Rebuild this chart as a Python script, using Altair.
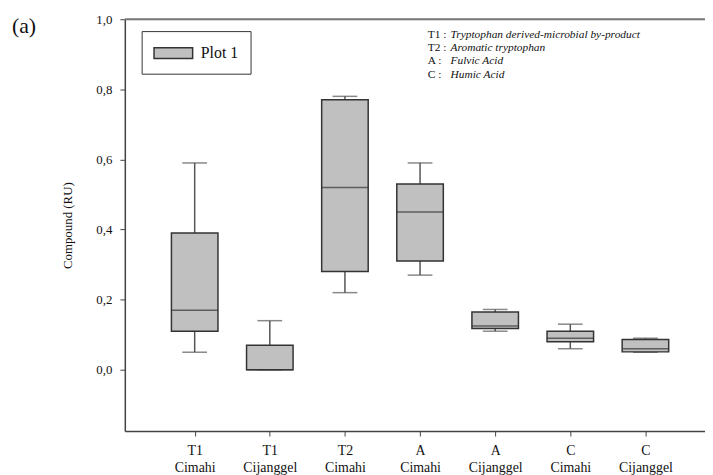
import altair as alt
import pandas as pd

# ---- data ----
categories = ["T1|Cimahi", "T1|Cijanggel", "T2|Cimahi", "A|Cimahi",
              "A|Cijanggel", "C|Cimahi", "C|Cijanggel"]
whisker_low = [0.05, 0.00, 0.22, 0.27, 0.110, 0.06, 0.050]
q1 = [0.11, 0.00, 0.28, 0.31, 0.118, 0.08, 0.051]
median = [0.17, 0.00, 0.52, 0.45, 0.125, 0.09, 0.060]
q3 = [0.39, 0.07, 0.77, 0.53, 0.165, 0.11, 0.086]
whisker_high = [0.59, 0.14, 0.78, 0.59, 0.172, 0.13, 0.090]
series_name = "Plot 1"
y_ticks = [0.0, 0.2, 0.4, 0.6, 0.8, 1.0]
note_keys = ["T1 :", "T2 :", "A  :", "C  :"]
note_descs = ["Tryptophan derived-microbial by-product", " Aromatic tryptophan",
              "Fulvic Acid", "Humic Acid"]
panel_label = "(a)"

df = pd.DataFrame({
    "idx": list(range(1, len(categories) + 1)),
    "cat": categories,
    "lo": whisker_low, "q1": q1, "med": median, "q3": q3, "hi": whisker_high,
    "series": [series_name] * len(categories),
})
one = pd.DataFrame({"k": [0]})

FONT = "Liberation Serif"
W, H = 586, 416

cat_js = "[" + ",".join("'" + c + "'" for c in categories) + "]"
xscale = alt.Scale(domain=[0.136, 7.727], nice=False, zero=False)
yscale = alt.Scale(domain=[-0.175, 1.0], nice=False, zero=False)

xaxis = alt.Axis(values=list(range(1, len(categories) + 1)),
                 labelExpr="split(" + cat_js + "[datum.value - 1], '|')",
                 title=None, grid=False, labelFont=FONT, labelFontSize=14,
                 labelLineHeight=17, labelBaseline="alphabetic", labelPadding=19,
                 tickSize=5, tickColor="#444", domainColor="#444",
                 domainWidth=1.5, labelColor="#111")
yaxis = alt.Axis(values=y_ticks,
                 labelExpr="replace(format(datum.value, '.1f'), '.', ',')",
                 title="Compound (RU)", grid=False, labelFont=FONT,
                 labelFontSize=13, labelPadding=8, tickSize=5,
                 tickColor="#444", domainColor="#444", domainWidth=1.5,
                 titleFont=FONT, titleFontSize=13, titleFontWeight="normal",
                 titlePadding=22, labelColor="#111", titleColor="#111")

base = alt.Chart(df)

whisk = base.mark_rule(color="#555", strokeWidth=1.5).encode(
    x=alt.X("idx:Q", scale=xscale, axis=xaxis),
    y=alt.Y("lo:Q", scale=yscale, axis=yaxis),
    y2="hi:Q",
)
cap_hi = base.mark_tick(orient="horizontal", size=25, thickness=1.5, color="#555").encode(
    x="idx:Q", y="hi:Q")
cap_lo = base.mark_tick(orient="horizontal", size=25, thickness=1.5, color="#555").encode(
    x="idx:Q", y="lo:Q")
box = base.mark_bar(size=47, stroke="#333", strokeWidth=1.5, opacity=1).encode(
    x="idx:Q", y="q1:Q", y2="q3:Q",
    color=alt.Color("series:N", scale=alt.Scale(range=["#c0c0c0"]),
                    legend=alt.Legend(
                        title=None, orient="none", legendX=17, legendY=12,
                        strokeColor="#333", padding=11.75,
                        symbolType="M-1,-0.565H3V0.565H-1Z", symbolSize=380,
                        symbolStrokeColor="#333", symbolStrokeWidth=1.5,
                        symbolFillColor="#c0c0c0", symbolOpacity=1,
                        labelFont=FONT, labelFontSize=16, labelOffset=27,
                        labelExpr="datum.label + '\u2002'",
                        labelColor="#111")),
)
med = base.mark_tick(orient="horizontal", size=47, thickness=1.5, color="#333").encode(
    x="idx:Q", y="med:Q")

top_line = alt.Chart(one).mark_rule(color="#777", strokeWidth=2).encode(
    y=alt.datum(1.0))

NOTE_FS, NOTE_LH = 11.5, 13.3
keys = alt.Chart(one).mark_text(text=note_keys, font=FONT, fontSize=NOTE_FS,
                                 align="left", baseline="alphabetic",
                                 lineHeight=NOTE_LH, color="#111").encode(
    x=alt.value(306), y=alt.value(19))
descs = alt.Chart(one).mark_text(text=note_descs, font=FONT, fontSize=NOTE_FS,
                                  fontStyle="italic", align="left",
                                  baseline="alphabetic", lineHeight=NOTE_LH,
                                  color="#111").encode(
    x=alt.value(329), y=alt.value(19))
label_a = alt.Chart(one).mark_text(text=panel_label, font=FONT, fontSize=22,
                                    align="left", baseline="alphabetic",
                                    color="#111").encode(
    x=alt.value(-114), y=alt.value(14))

chart = alt.layer(whisk, cap_hi, cap_lo, box, med, top_line, keys, descs, label_a).properties(
    width=W, height=H,
    autosize=alt.AutoSizeParams(type="none"),
    padding={"left": 118, "top": 9, "right": 0, "bottom": 42},
).configure_view(stroke=None).configure(font=FONT, background="white")

chart.save("out.html", embed_options={"renderer": "svg", "actions": False})
